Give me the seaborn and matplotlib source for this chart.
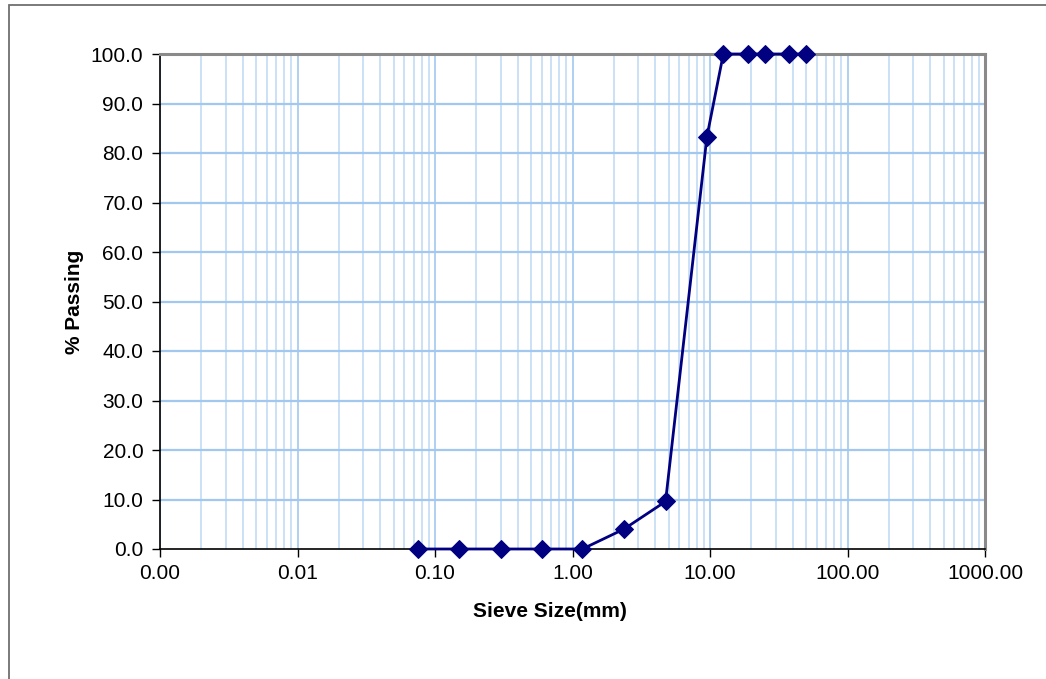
import matplotlib
matplotlib.use("Agg")
import matplotlib.pyplot as plt
import matplotlib.ticker as mticker
from matplotlib.patches import Rectangle
import seaborn as sns
import pandas as pd
import numpy as np

sieve_mm = [0.075, 0.15, 0.3, 0.6, 1.18, 2.36, 4.75, 9.5, 12.5, 19.0, 25.0, 37.5, 50.0]
passing = [0.0, 0.0, 0.0, 0.0, 0.0, 4.0, 9.6, 83.3, 100.0, 100.0, 100.0, 100.0, 100.0]
x_ticks = [0.001, 0.01, 0.1, 1, 10, 100, 1000]
x_tick_labels = ["0.00", "0.01", "0.10", "1.00", "10.00", "100.00", "1000.00"]
y_ticks = [0, 10, 20, 30, 40, 50, 60, 70, 80, 90, 100]
y_tick_labels = ["%.1f" % v for v in y_ticks]

sns.set_theme(style="white")
plt.rcParams['font.family'] = ['Liberation Sans', 'DejaVu Sans']

W, H = 1046, 679
fig = plt.figure(figsize=(W / 100, H / 100), dpi=100)
ax = fig.add_axes([160 / W, 1 - 549 / H, (985 - 160) / W, (549 - 54) / H])

df = pd.DataFrame({"Sieve": sieve_mm, "Passing": passing})

ax.set_xscale("log")
ax.set_xlim(0.001, 1000)
ax.set_ylim(0, 100)

# gridlines
for d in x_ticks:
    ax.axvline(d, color="#a9cdf2", lw=1.3, zorder=0)
for dec in x_ticks[:-1]:
    for m in range(2, 10):
        ax.axvline(dec * m, color="#c4dcf5", lw=1.2, zorder=0)
for yv in y_ticks[1:-1]:
    ax.axhline(yv, color="#a3c8f0", lw=1.6, zorder=0)

sns.lineplot(data=df, x="Sieve", y="Passing", ax=ax, sort=False,
             color="#000080", lw=2.0, marker="D", markersize=9,
             markeredgecolor="#000080", markerfacecolor="#000080", zorder=5,
             clip_on=False)

ax.set_xticks(x_ticks)
ax.set_xticklabels(x_tick_labels)
ax.xaxis.set_minor_locator(mticker.NullLocator())
ax.set_yticks(y_ticks)
ax.set_yticklabels(y_tick_labels)

ax.tick_params(axis="both", which="major", direction="out", length=6, width=1,
               color="black", labelsize=15, labelcolor="black")
ax.tick_params(axis="y", pad=6, left=True)
ax.tick_params(axis="x", pad=5, bottom=True)

for s in ["left", "bottom"]:
    ax.spines[s].set_color("black")
    ax.spines[s].set_linewidth(1.2)
for s in ["top", "right"]:
    ax.spines[s].set_color("#8a8a8a")
    ax.spines[s].set_linewidth(2.2)
    ax.spines[s].set_visible(True)

ax.set_xlabel("Sieve Size(mm)", fontsize=15, fontweight="bold", color="black")
ax.xaxis.set_label_coords(0.473, -0.107)
ax.set_ylabel("% Passing", fontsize=15, fontweight="bold", labelpad=5, color="black")

# outer chart frame
frame = Rectangle((8.5 / W, -0.2), 1.5, 1 - 4.5 / H + 0.2, transform=fig.transFigure,
                  fill=False, edgecolor="#707070", lw=1.3, clip_on=False)
fig.patches.append(frame)

fig.savefig("out.png", dpi=100)
